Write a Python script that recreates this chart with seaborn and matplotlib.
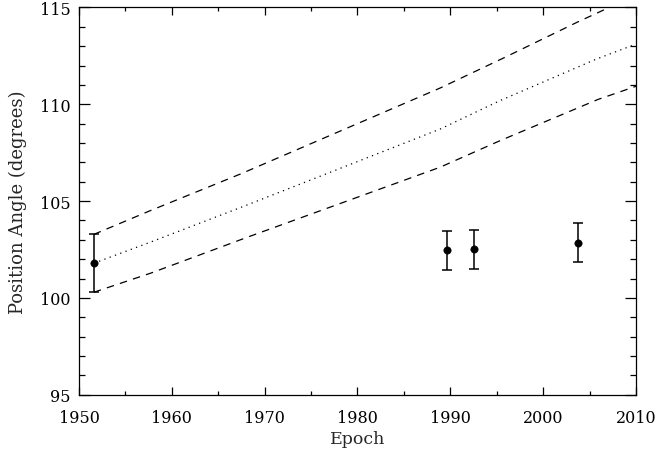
import numpy as np
import pandas as pd
import matplotlib
matplotlib.use("Agg")
import matplotlib.pyplot as plt
import seaborn as sns
from matplotlib.ticker import MultipleLocator

# ========== DATA ==========
obs_epoch = [1951.6, 1989.6, 1992.6, 2003.8]
obs_pa = [101.8, 102.45, 102.5, 102.85]
obs_err = [1.5, 1.0, 1.0, 1.0]

# predicted position angle (dotted) and its upper / lower bounds (dashed)
pred_epoch = [1951.6, 1957.65, 1968.06, 1988.9, 1995.35, 2005.7, 2010.0]
pred_pa = [101.79, 102.87, 104.79, 108.72, 110.19, 112.33, 113.11]

upper_epoch = [1951.6, 1957.65, 1967.5, 1988.9, 1995.9, 2003.75, 2007.1]
upper_pa = [103.28, 104.50, 106.42, 110.84, 112.43, 114.26, 115.0]

lower_epoch = [1951.6, 1957.8, 1968.06, 1988.9, 1995.35, 2005.9, 2010.0]
lower_pa = [100.29, 101.29, 103.12, 106.75, 108.12, 110.25, 110.93]

x_ticks = [1950, 1960, 1970, 1980, 1990, 2000, 2010]
y_ticks = [95, 100, 105, 110, 115]

# ========== STYLE ==========
sns.set_style("ticks")
plt.rcParams['font.family'] = ['DejaVu Serif', 'DejaVu Sans']
plt.rcParams['font.size'] = 11.5

pred = pd.DataFrame({"epoch": pred_epoch, "pa": pred_pa})
upper = pd.DataFrame({"epoch": upper_epoch, "pa": upper_pa})
lower = pd.DataFrame({"epoch": lower_epoch, "pa": lower_pa})
obs = pd.DataFrame({"epoch": obs_epoch, "pa": obs_pa, "err": obs_err})

fig = plt.figure(figsize=(6.58, 4.52), dpi=100)
ax = fig.add_axes([0.120, 0.1246, 0.8466, 0.8566])

sns.lineplot(data=pred, x="epoch", y="pa", ax=ax, color="black",
             lw=0.9, linestyle=(0, (1, 3.5)), sort=False)
for df in (upper, lower):
    sns.lineplot(data=df, x="epoch", y="pa", ax=ax, color="black",
                 lw=0.9, linestyle=(0, (6, 5)), sort=False)

ax.errorbar(obs["epoch"], obs["pa"], yerr=obs["err"], fmt="none",
            ecolor="black", elinewidth=1.1, capsize=3.3, capthick=1.1)
sns.scatterplot(data=obs, x="epoch", y="pa", ax=ax, color="black",
                s=28, edgecolor="black", zorder=5)

ax.set_xlim(1950, 2010)
ax.set_ylim(95, 115)
ax.set_xticks(x_ticks)
ax.set_yticks(y_ticks)
ax.xaxis.set_minor_locator(MultipleLocator(5))
ax.yaxis.set_minor_locator(MultipleLocator(1))
ax.tick_params(which="both", direction="in", top=True, right=True,
               width=0.9, colors="black", labelsize=11.5)
ax.tick_params(axis="x", which="major", length=6, pad=10)
ax.tick_params(axis="x", which="minor", length=3)
ax.tick_params(axis="y", which="major", length=8, pad=6)
ax.tick_params(axis="y", which="minor", length=4)
for sp in ax.spines.values():
    sp.set_linewidth(0.9)
    sp.set_color("black")

ax.set_xlabel("Epoch", fontsize=12.5, labelpad=3)
ax.set_ylabel("Position Angle (degrees)", fontsize=13, labelpad=9)

fig.savefig("out.png", dpi=100)
